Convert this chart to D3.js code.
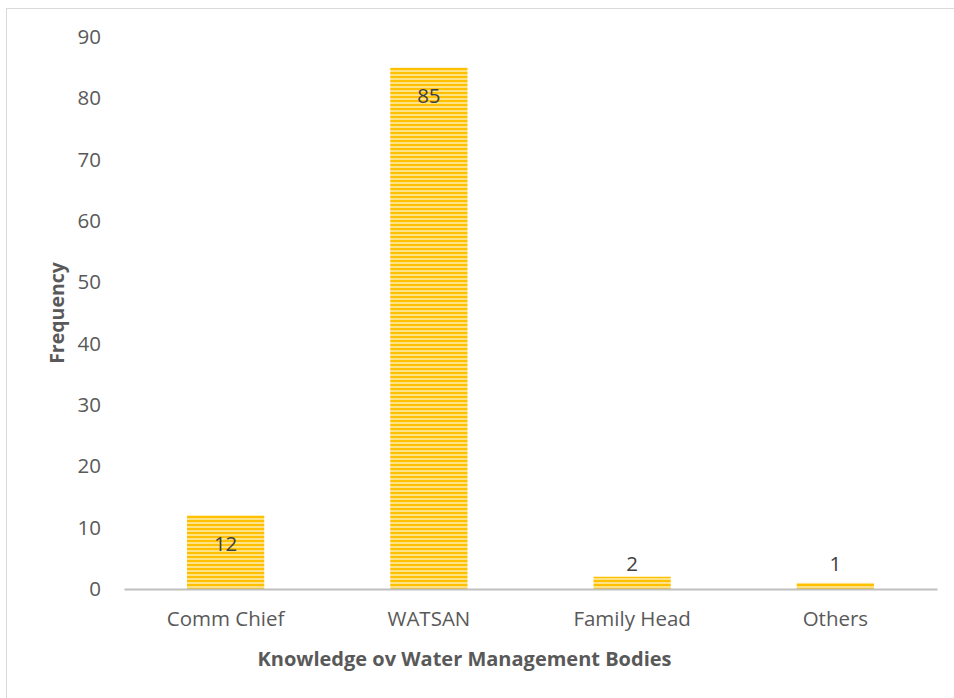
<!DOCTYPE html>
<html>
<head>
<meta charset="utf-8">
<script src="https://cdn.jsdelivr.net/npm/d3@7"></script>
<style>
  html, body { margin: 0; padding: 0; background: #fff; }
  svg { display: block; }
</style>
</head>
<body>
<svg id="chart" width="954" height="698"></svg>
<script>
const categories = ["Comm Chief", "WATSAN", "Family Head", "Others"];
const frequency = [12, 85, 2, 1];
const yTicks = [0, 10, 20, 30, 40, 50, 60, 70, 80, 90];
const xTitle = "Knowledge ov Water Management Bodies";
const yTitle = "Frequency";

const W = 954, H = 698;
const font = "'Open Sans', Lato, sans-serif";
const svg = d3.select("#chart");

// chart border
svg.append("rect").attr("x", 6.5).attr("y", 8.5).attr("width", W).attr("height", H)
  .attr("fill", "#fff").attr("stroke", "#D9D9D9").attr("stroke-width", 1);

// stripe pattern
const defs = svg.append("defs");
const pat = defs.append("pattern").attr("id", "stripes")
  .attr("patternUnits", "userSpaceOnUse").attr("width", 8).attr("height", 4);
pat.append("rect").attr("width", 8).attr("height", 4).attr("fill", "#FFC000");
pat.append("rect").attr("y", 2).attr("width", 8).attr("height", 2).attr("fill", "#FFE286");

const plot = { left: 124, right: 937, top: 37, bottom: 589 };

const x = d3.scaleBand().domain(categories).range([plot.left, plot.right])
  .paddingInner(0.62).paddingOuter(0.31);
const y = d3.scaleLinear().domain([0, 90]).range([plot.bottom, plot.top]);

// y axis labels
const yAxis = d3.axisLeft(y).tickValues(yTicks).tickSize(0).tickPadding(0);
const gy = svg.append("g").attr("transform", `translate(${101},0)`).call(yAxis);
gy.select(".domain").remove();
gy.selectAll("text").attr("font-family", font).attr("font-size", 20.5)
  .attr("fill", "#595959");

// bars
svg.append("g").selectAll("rect").data(categories).join("rect")
  .attr("x", d => x(d))
  .attr("y", (d, i) => y(frequency[i]))
  .attr("width", x.bandwidth())
  .attr("height", (d, i) => y(0) - y(frequency[i]))
  .attr("fill", "url(#stripes)");

// x axis
const xAxis = d3.axisBottom(x).tickSize(0).tickPadding(18);
const gx = svg.append("g").attr("transform", `translate(0,${y(0)})`).call(xAxis);
gx.select(".domain").attr("stroke", "#BFBFBF").attr("stroke-width", 2.2);
gx.selectAll("text").attr("font-family", font).attr("font-size", 20.5)
  .attr("fill", "#595959").attr("dy", "0.95em");

// data labels
svg.append("g").selectAll("text").data(categories).join("text")
  .attr("x", d => x(d) + x.bandwidth() / 2)
  .attr("y", (d, i) => Math.min(y(frequency[i]) + 28, y(0) - 25))
  .attr("dy", "0.35em")
  .attr("text-anchor", "middle")
  .attr("font-family", font).attr("font-size", 20.5).attr("fill", "#404040")
  .text((d, i) => frequency[i]);

// axis titles
svg.append("text").attr("x", (plot.left + plot.right) / 2 - 66).attr("y", 659)
  .attr("dy", "0.35em").attr("text-anchor", "middle")
  .attr("font-family", font).attr("font-size", 20).attr("font-weight", "bold")
  .attr("fill", "#595959").text(xTitle);

svg.append("text").attr("transform", `translate(57,${313}) rotate(-90)`)
  .attr("dy", "0.35em").attr("text-anchor", "middle")
  .attr("font-family", font).attr("font-size", 19.5).attr("font-weight", "bold")
  .attr("fill", "#595959").text(yTitle);
</script>
</body>
</html>
